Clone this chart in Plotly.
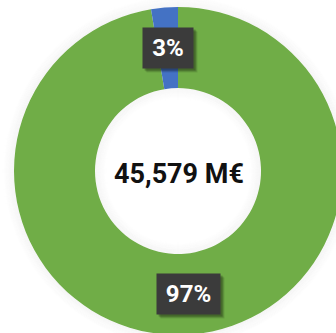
import math
import plotly.graph_objects as go

# ---- data ----
labels = ["Other", "Main"]
slice_labels = ["97%", "3%"]
values = [44379, 1200]
colors = ["#70AD47", "#4472C4"]
center_text = "45,579 M€"

# ---- layout geometry (pixels, page origin top-left) ----
W, H = 352, 345          # larger than the window; overflow is hidden
cx, cy, R = 178, 171, 164
r_in = 83
hole = r_in / R

dom_x = [(cx - R) / W, (cx + R) / W]
dom_y = [(H - (cy + R)) / H, (H - (cy - R)) / H]


def px2paper(px, py):
    return px / W, 1 - py / H


def circle(radius, **kw):
    x0, y1 = px2paper(cx - radius, cy - radius)
    x1, y0 = px2paper(cx + radius, cy + radius)
    return dict(type="circle", xref="paper", yref="paper",
                x0=x0, x1=x1, y0=y0, y1=y1, **kw)


fig = go.Figure()
fig.add_trace(go.Pie(
    labels=labels,
    values=values,
    hole=hole,
    sort=False,
    direction="clockwise",
    rotation=0,
    marker=dict(colors=colors, line=dict(width=0)),
    textinfo="none",
    hoverinfo="label+value+percent",
    showlegend=False,
    domain=dict(x=dom_x, y=dom_y),
))

# soft glow/shadow around the ring (outside and inside)
shapes = []
for k in range(1, 13):
    a = 0.035 * (13 - k) / 12
    shapes.append(circle(R + k - 0.5, layer="below",
                         line=dict(color="rgba(0,0,0,%.4f)" % a, width=1.2)))
    shapes.append(circle(r_in - k + 0.5, layer="above",
                         line=dict(color="rgba(0,0,0,%.4f)" % a, width=1.2)))

# slice labels at mid radius of each slice
total = sum(values)
cum = 0.0
annotations = []
r_mid = (R + r_in) / 2
for v, t in zip(values, slice_labels):
    mid = (cum + v / 2) / total
    cum += v
    th = 2 * math.pi * mid
    lx = cx + r_mid * math.sin(th)
    ly = cy - r_mid * math.cos(th)
    bw = 13 * len(t) + 24
    # drop shadow of the label box
    for off, alpha in [(4, 0.10), (3, 0.15), (2, 0.20)]:
        sx, sy = px2paper(lx + off, ly + off)
        annotations.append(dict(
            x=sx, y=sy, xref="paper", yref="paper", text=" ", showarrow=False,
            bgcolor="rgba(0,0,0,%.2f)" % alpha, width=bw, height=40, borderpad=0,
            xanchor="center", yanchor="middle",
        ))
    ax, ay = px2paper(lx, ly)
    annotations.append(dict(
        x=ax, y=ay, xref="paper", yref="paper",
        text="<b>%s</b>" % t, showarrow=False,
        font=dict(family="Roboto", size=24, color="white"),
        bgcolor="#3B3B3B", width=bw, height=40, borderpad=0,
        xanchor="center", yanchor="middle",
    ))

tx, ty = px2paper(cx + 1, cy + 3)
annotations.append(dict(
    x=tx, y=ty, xref="paper", yref="paper",
    text="<b>%s</b>" % center_text, showarrow=False,
    font=dict(family="Roboto", size=27, color="#111111"),
    xanchor="center", yanchor="middle",
))

fig.update_layout(
    width=W, height=H,
    margin=dict(l=0, r=0, t=0, b=0),
    paper_bgcolor="white",
    plot_bgcolor="white",
    annotations=annotations,
    shapes=shapes,
)

fig.write_html(
    "out.html",
    config={"displayModeBar": False},
    post_script="document.body.style.margin='0';"
                "document.body.style.overflow='hidden';"
                "document.documentElement.style.overflow='hidden';",
)
